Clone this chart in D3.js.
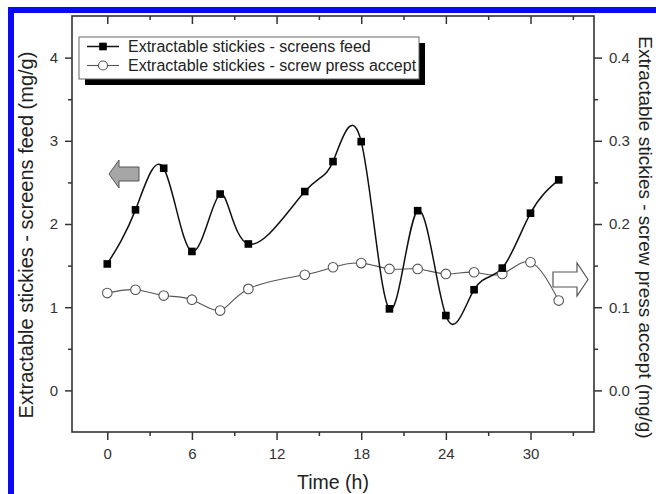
<!DOCTYPE html>
<html><head><meta charset="utf-8">
<script src="https://cdn.jsdelivr.net/npm/d3@7"></script>
<style>body{margin:0;background:#fff}svg{display:block}text{font-family:"Liberation Sans",Arial,sans-serif}</style>
</head><body>
<script>
const hours = [0,2,4,6,8,10,14,16,18,20,22,24,26,28,30,32];
const screensFeed = [1.52,2.17,2.67,1.67,2.36,1.76,2.39,2.75,2.99,0.98,2.16,0.90,1.21,1.47,2.13,2.53];
const screwPress = [0.117,0.121,0.114,0.109,0.096,0.122,0.139,0.148,0.153,0.146,0.146,0.140,0.142,0.140,0.154,0.108];
const xMajor = [0,6,12,18,24,30];
const xMinor = [3,9,15,21,27,33];
const yLeftMajor = [0,1,2,3,4];
const yLeftMinor = [0.5,1.5,2.5,3.5];
const yRightMajor = [0,0.1,0.2,0.3,0.4];
const yRightMinor = [0.05,0.15,0.25,0.35];
const seriesNames = ["Extractable stickies - screens feed","Extractable stickies - screw press accept"];

const W=656,H=494;
const svg=d3.select("body").append("svg").attr("width",W).attr("height",H);
svg.append("rect").attr("width",W).attr("height",H).attr("fill","#fff");
// blue border
svg.append("rect").attr("x",8).attr("y",7).attr("width",W-8).attr("height",6).attr("fill","#0a0af5");
svg.append("rect").attr("x",8).attr("y",7).attr("width",6).attr("height",H-7).attr("fill","#0a0af5");

const L=72,R=594,T=16,B=432;
const x=d3.scaleLinear([-2.5,34.5],[L,R]);
const yL=d3.scaleLinear([-0.5,4.5],[B,T]);
const yR=d3.scaleLinear([-0.05,0.45],[B,T]);
const axCol="#333";

function styleAxis(g){g.select(".domain").remove();g.selectAll("line").attr("stroke",axCol).attr("stroke-width",1.5);
 g.selectAll("text").attr("fill","#333").style("font-size","15px");}

// bottom
svg.append("g").attr("transform",`translate(0,${B})`).call(d3.axisBottom(x).tickValues(xMajor).tickSize(8).tickPadding(8.5)).call(styleAxis);
svg.append("g").attr("transform",`translate(0,${B})`).call(d3.axisBottom(x).tickValues(xMinor).tickSize(4).tickFormat("")).call(styleAxis);
// top (inward)
svg.append("g").attr("transform",`translate(0,${T})`).call(d3.axisBottom(x).tickValues(xMajor).tickSize(8).tickFormat("")).call(styleAxis);
svg.append("g").attr("transform",`translate(0,${T})`).call(d3.axisBottom(x).tickValues(xMinor).tickSize(4).tickFormat("")).call(styleAxis);
// left
svg.append("g").attr("transform",`translate(${L},0)`).call(d3.axisLeft(yL).tickValues(yLeftMajor).tickSize(7).tickPadding(7).tickFormat(d3.format("d"))).call(styleAxis);
svg.append("g").attr("transform",`translate(${L},0)`).call(d3.axisLeft(yL).tickValues(yLeftMinor).tickSize(4).tickFormat("")).call(styleAxis);
// right
svg.append("g").attr("transform",`translate(${R},0)`).call(d3.axisRight(yR).tickValues(yRightMajor).tickSize(8).tickPadding(7).tickFormat(d3.format(".1f"))).call(styleAxis);
svg.append("g").attr("transform",`translate(${R},0)`).call(d3.axisRight(yR).tickValues(yRightMinor).tickSize(4).tickFormat("")).call(styleAxis);

// frame
svg.append("rect").attr("x",L).attr("y",T).attr("width",R-L).attr("height",B-T).attr("fill","none").attr("stroke",axCol).attr("stroke-width",1.6);

// axis titles
svg.append("text").attr("x",333).attr("y",489).attr("text-anchor","middle").style("font-size","19.5px").attr("fill","#222").text("Time (h)");
svg.append("text").attr("transform","translate(33,235) rotate(-90)").attr("text-anchor","middle").style("font-size","20px").attr("fill","#222").text("Extractable stickies - screens feed (mg/g)");
svg.append("text").attr("transform","translate(638.5,237.5) rotate(90)").attr("text-anchor","middle").style("font-size","19px").attr("fill","#222").text("Extractable stickies - screw press accept (mg/g)");

// lines
const lineL=d3.line().x((d,i)=>x(hours[i])).y(d=>yL(d)).curve(d3.curveNatural);
const lineR=d3.line().x((d,i)=>x(hours[i])).y(d=>yR(d)).curve(d3.curveNatural);
svg.append("path").attr("d",lineR(screwPress)).attr("fill","none").attr("stroke","#555").attr("stroke-width",1.1);
svg.append("path").attr("d",lineL(screensFeed)).attr("fill","none").attr("stroke","#111").attr("stroke-width",1.5);
svg.selectAll("circle.pt").data(screwPress).enter().append("circle").attr("class","pt")
 .attr("cx",(d,i)=>x(hours[i])).attr("cy",d=>yR(d)).attr("r",4.8).attr("fill","#fff").attr("stroke","#555").attr("stroke-width",1.1);
svg.selectAll("rect.pt").data(screensFeed).enter().append("rect").attr("class","pt")
 .attr("x",(d,i)=>x(hours[i])-3.8).attr("y",d=>yL(d)-3.8).attr("width",7.6).attr("height",7.6).attr("fill","#000");

// arrows
svg.append("path").attr("d","M109,174 L119,160 L119,167 L139,167 L139,181 L119,181 L119,188 Z").attr("fill","#a6a6a6").attr("stroke","#555").attr("stroke-width",1);
svg.append("path").attr("d","M588,279.5 L577,263 L577,272 L553,272 L553,287 L577,287 L577,296 Z").attr("fill","#fff").attr("stroke","#555").attr("stroke-width",1.2);

// legend
svg.append("rect").attr("x",85).attr("y",43).attr("width",340).attr("height",42).attr("fill","#000");
svg.append("rect").attr("x",79).attr("y",37).attr("width",340).attr("height",42).attr("fill","#fff").attr("stroke","#666").attr("stroke-width",1);
const lg=svg.append("g");
[0,1].forEach(i=>{
  const cy=i===0?46.5:65.5;
  lg.append("line").attr("x1",87).attr("x2",119).attr("y1",cy).attr("y2",cy).attr("stroke",i===0?"#111":"#555").attr("stroke-width",i===0?1.5:1.1);
  if(i===0) lg.append("rect").attr("x",103-3.8).attr("y",cy-3.8).attr("width",7.6).attr("height",7.6).attr("fill","#000");
  else lg.append("circle").attr("cx",103).attr("cy",cy).attr("r",4.5).attr("fill","#fff").attr("stroke","#555").attr("stroke-width",1.1);
  lg.append("text").attr("x",128).attr("y",cy+5.6).style("font-size","16px").attr("fill","#222").text(seriesNames[i]);
});
</script>
</body></html>
